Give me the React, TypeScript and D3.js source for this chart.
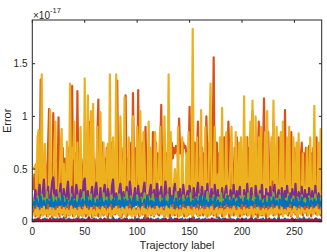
import React from "react";
import * as d3 from "d3";

// x tick values / labels
const xTicks = [0, 50, 100, 150, 200, 250];
const xTickLabels = ["0", "50", "100", "150", "200", "250"];
// y tick values (in units of 1e-17) / labels
const yTicks = [0, 0.5, 1, 1.5];
const yTickLabels = ["0", "0.5", "1", "1.5"];

const palette = ["#0072BD", "#D95319", "#EDB120", "#7E2F8E", "#77AC30", "#4DBEEE", "#A2142F"];

// series values in hundredths of 1e-17, one value per trajectory label 1..276
const blueA = [
  1,2,0,1,3,1,2,1,0,2,1,3,1,2,1,0,2,1,1,3,
  2,1,1,3,0,2,1,2,1,4,1,0,2,1,3,1,2,0,1,2,
  1,3,2,0,1,2,1,3,1,2,0,1,2,4,1,1,2,0,3,1,
  2,0,1,2,3,1,0,2,1,2,1,3,0,1,2,1,4,1,0,2,
  1,2,3,1,0,2,1,1,2,3,1,0,2,1,2,0,1,3,2,1,
  3,1,0,2,1,2,4,1,0,1,2,1,3,0,2,1,1,2,0,3,
  1,0,2,1,3,1,2,0,1,2,1,4,1,2,0,3,1,1,2,0,
  2,1,3,0,1,2,1,2,0,3,1,1,2,4,1,0,2,1,3,1,
  0,2,1,1,3,0,2,1,2,1,0,3,1,2,1,2,0,4,1,2,
  1,3,0,2,1,2,1,0,3,1,2,1,1,0,2,3,1,2,0,1,
  2,1,2,3,0,1,2,1,4,0,1,2,3,1,0,2,1,2,1,3,
  1,0,3,1,2,1,0,2,1,2,3,1,0,2,4,1,1,2,0,1,
  3,1,2,0,1,2,1,3,1,0,2,1,2,1,3,0,2,1,4,1,
  2,1,0,3,1,2,1,0,2,1,3,1,2,0,1,2
];

const orangeBig = [
  30,45,20,55,25,60,30,135,18,50,
  25,60,45,20,70,107,25,55,18,103,
  45,22,60,28,99,18,55,30,70,22,
  60,25,55,70,20,50,35,129,22,55,
  65,20,124,40,18,70,45,22,60,30,
  70,25,60,95,20,55,70,25,60,35,
  28,80,116,22,60,40,75,20,60,25,
  70,35,18,65,40,75,22,60,30,70,
  134,25,60,75,20,55,70,30,120,22,
  60,25,75,40,20,122,60,25,70,35,
  125,22,60,35,75,20,65,90,30,60,
  25,70,40,18,85,60,28,75,22,65,
  40,70,111,22,60,80,30,65,20,70,
  55,45,75,60,70,65,72,70,60,98,
  65,68,60,75,70,72,65,60,55,109,
  35,65,22,60,75,30,65,95,25,60,
  30,70,22,65,40,100,60,25,75,40,
  28,70,156,22,60,75,30,65,35,70,
  25,65,80,22,70,35,95,60,25,75,
  40,20,70,35,80,25,65,22,70,40,
  30,75,22,65,80,20,70,35,60,105,
  25,65,75,20,60,95,30,70,22,65,
  117,35,70,22,85,40,20,75,30,95,
  40,22,70,20,80,35,65,25,70,40,
  106,20,65,35,75,22,85,40,20,70,
  30,65,25,70,20,60,75,25,65,35,
  70,20,60,72,25,65,20,70,30,60,
  80,25,65,20,70,30
];

const yellowBig = [
  52,50,54,25,80,87,30,22,140,25,
  20,74,30,18,22,28,106,20,25,30,
  70,95,22,18,25,40,70,88,20,55,
  25,20,76,22,18,131,30,70,60,95,
  20,22,75,15,25,90,28,20,22,136,
  35,20,120,18,25,105,30,112,25,20,
  30,90,20,18,104,28,22,75,18,25,
  60,74,22,140,22,20,80,30,25,140,
  35,22,20,100,60,20,25,118,18,22,
  30,80,25,22,20,100,35,22,20,90,
  60,28,105,25,18,85,60,22,20,30,
  95,25,70,25,20,22,85,65,20,25,
  60,90,22,20,25,100,60,20,28,140,
  25,85,22,18,35,50,30,20,90,18,
  22,20,80,25,20,15,65,28,85,20,
  25,40,183,22,20,35,80,18,22,45,
  106,25,20,35,90,20,22,40,80,131,
  30,22,40,90,25,20,45,28,80,22,
  108,25,20,40,85,20,22,30,65,90,
  22,20,35,85,25,20,75,22,80,30,
  20,119,25,80,20,22,45,95,25,115,
  35,20,100,28,22,80,25,90,22,20,
  40,85,22,105,25,20,22,80,40,115,
  30,22,90,25,20,35,85,20,95,22,
  25,30,80,22,90,20,25,18,80,30,
  22,75,25,84,20,22,20,65,30,20,
  25,70,22,20,80,30,22,40,110,25,
  20,20,75,18,88,60
];

const purple = [
  12,22,30,18,14,25,35,20,12,28,40,24,15,22,33,18,13,27,38,42,
  25,16,30,21,12,26,36,19,14,31,24,13,28,38,22,15,20,33,17,12,
  26,35,28,16,21,30,14,24,38,41,22,15,29,18,12,25,33,20,16,30,
  37,24,14,20,32,18,13,28,35,22,16,31,26,12,19,34,40,23,15,27,
  20,13,30,36,24,17,28,14,21,33,26,15,38,29,18,13,24,32,20,16,
  34,22,14,27,19,31,37,21,15,25,13,29,35,18,23,30,14,20,36,24,
  16,28,33,19,13,26,38,27,15,21,32,17,24,14,30,36,20,13,28,22,
  31,18,14,35,25,16,22,29,13,34,27,19,15,32,24,12,28,37,21,16,
  26,33,17,13,29,22,36,18,14,27,31,20,15,35,24,13,30,19,25,16,
  32,21,14,28,34,18,24,13,30,26,17,35,22,14,29,19,27,33,15,21,
  14,30,24,17,36,20,13,27,32,19,23,15,34,26,18,13,29,22,35,17,
  24,15,31,19,27,13,33,21,16,28,35,18,14,26,30,20,13,32,23,17,
  29,16,34,22,14,27,19,31,24,15,36,20,13,28,25,18,33,14,22,30,
  18,26,13,32,21,15,29,24,17,34,19,14,27,22,16,25
];

const green = [
  14,20,12,17,24,15,11,19,26,13,18,22,15,28,12,17,21,14,19,25,
  16,12,23,18,14,27,13,20,16,24,11,18,22,15,19,13,26,17,14,21,
  18,13,25,16,20,12,22,17,28,14,19,15,23,12,18,26,14,20,16,22,
  13,24,17,19,12,21,15,27,14,18,23,16,12,20,25,15,18,13,22,17,
  20,14,26,16,19,12,23,18,15,28,13,21,17,24,14,19,12,22,16,25,
  15,18,13,23,20,14,27,16,19,12,24,17,21,15,26,13,18,22,14,20,
  17,25,12,19,22,15,18,13,26,16,20,14,23,17,12,21,28,15,19,16,
  22,14,18,25,13,20,16,24,12,19,27,15,21,17,14,23,18,13,26,16,
  19,13,24,16,21,14,28,17,12,22,18,15,25,13,20,16,23,14,19,27,
  14,21,17,12,26,18,15,23,13,20,16,25,14,19,22,12,18,24,15,21,
  16,24,13,19,15,27,17,21,12,18,25,14,22,16,20,13,26,15,19,17,
  21,15,18,24,12,20,16,23,14,27,17,13,22,18,15,25,12,19,21,16,
  18,22,14,26,16,12,21,17,24,13,19,15,23,18,12,20,25,14,17,22,
  15,20,13,24,18,16,22,12,19,26,14,17,21,15,23,18
];

const lightBlue = [
  10,13,8,12,15,9,11,14,7,12,10,16,9,13,11,8,14,10,12,15,
  9,12,14,8,11,15,10,13,7,12,16,9,11,14,10,8,13,12,15,9,
  11,14,9,12,10,16,8,13,11,15,9,12,14,10,7,13,11,16,9,12,
  13,10,15,8,12,14,11,9,16,12,10,13,8,15,11,14,9,12,10,13,
  8,14,11,13,16,9,12,10,15,11,13,8,12,14,10,16,11,9,13,12,
  15,9,12,11,14,10,13,16,8,12,15,11,10,14,9,13,12,16,10,11,
  12,15,10,13,9,14,11,12,16,8,13,10,15,12,11,14,9,13,16,10,
  14,11,13,9,15,12,10,16,11,13,8,14,12,10,15,11,13,9,14,12,
  10,13,16,11,12,9,14,10,13,15,11,12,8,16,13,10,14,12,9,15,
  13,9,12,15,10,14,11,13,9,16,12,10,14,11,15,8,13,12,16,10,
  11,16,10,12,14,9,13,15,11,10,14,12,9,15,13,11,16,10,12,14,
  12,10,15,11,13,16,9,12,14,10,13,11,16,9,12,15,10,14,11,13,
  15,11,13,10,16,12,9,14,11,13,10,15,12,8,14,11,13,16,10,12,
  9,14,12,16,10,13,11,15,9,12,14,10,13,11,16,12
];

const darkRed = [
  1,0,2,1,0,3,1,1,0,2,1,0,1,2,0,1,3,0,1,1,
  0,2,1,0,1,0,3,1,0,2,0,1,0,1,2,0,1,0,2,1,
  1,0,1,3,0,1,2,0,1,0,1,2,0,4,1,0,1,0,2,0,
  2,0,1,0,1,2,0,1,3,0,1,0,2,1,0,1,0,2,0,1,
  0,1,2,0,1,0,1,3,0,2,1,0,1,0,2,1,0,1,2,0,
  1,2,0,1,0,2,1,0,1,4,0,1,2,0,1,0,1,2,0,1,
  0,1,0,2,1,0,3,1,0,1,2,0,1,0,1,2,0,3,1,0,
  2,0,1,0,1,2,0,1,0,2,1,3,0,1,0,1,2,0,1,0,
  1,0,2,1,0,1,0,2,1,0,3,1,0,2,0,1,0,1,2,1,
  0,1,0,3,1,0,2,0,1,0,1,2,1,0,1,0,2,0,1,3,
  1,2,0,1,0,1,2,0,3,1,0,1,0,2,1,0,1,2,0,1,
  0,1,2,0,1,3,0,1,0,2,1,0,1,0,2,1,0,1,0,2,
  1,0,1,2,0,1,0,3,1,0,2,1,0,1,0,2,0,1,2,0,
  1,2,0,1,0,1,2,0,1,3,0,1,0,2,1,0
];

const blueB = [
  15,19,12,22,16,11,18,24,13,17,20,14,10,21,16,19,12,23,15,18,
  13,20,17,11,22,15,19,14,24,12,18,16,21,13,10,19,17,23,14,16,
  20,12,18,15,22,11,17,21,14,19,13,24,16,12,20,18,15,22,13,17,
  16,21,13,19,11,23,15,18,12,20,17,14,22,16,19,11,21,15,18,24,
  12,17,20,14,18,23,13,16,21,11,19,15,22,17,12,20,14,24,16,18,
  19,14,22,12,17,15,21,13,18,24,16,11,20,14,19,17,12,22,15,21,
  14,18,11,20,16,23,13,19,15,12,21,17,24,14,18,11,22,16,13,20,
  17,22,15,12,19,14,21,16,23,13,18,11,20,15,17,22,12,19,14,24,
  21,13,17,24,14,20,12,18,15,22,16,19,11,23,14,17,20,13,18,15,
  12,19,16,21,13,24,17,14,20,11,18,22,15,12,19,16,23,14,21,17,
  18,15,23,12,20,14,17,22,13,19,16,11,21,15,24,18,12,20,14,17,
  15,21,12,18,16,22,14,19,11,23,17,13,20,16,12,21,18,15,24,13,
  20,14,19,13,24,15,18,12,21,16,14,22,17,11,19,15,23,13,18,16,
  13,18,22,15,11,20,17,14,21,12,19,16,23,14,17,20
];

const orangeLow = [
  8,12,5,15,7,10,4,13,9,6,14,8,11,5,16,7,12,9,4,13,
  10,6,14,8,12,5,11,15,7,9,13,4,10,16,6,12,8,14,5,11,
  7,13,9,4,15,10,6,12,8,16,5,11,14,7,9,13,4,10,15,6,
  12,8,5,14,10,7,13,6,11,15,9,4,12,8,16,5,10,13,7,11,
  9,15,6,11,4,13,8,12,10,5,14,7,16,9,6,11,13,4,12,8,
  14,5,10,13,7,16,9,4,12,8,11,15,6,10,13,5,14,8,11,7,
  6,11,14,8,12,5,10,15,7,13,4,9,12,16,8,6,11,14,5,10,
  13,7,9,16,5,11,14,6,10,12,8,15,4,11,9,13,7,16,10,6,
  10,14,6,12,8,15,5,11,13,7,9,16,6,12,10,4,14,8,11,15,
  5,9,13,7,16,10,12,4,14,8,11,6,15,9,13,7,10,5,12,16,
  11,7,15,9,6,13,8,14,5,12,10,16,7,11,4,14,9,13,6,10,
  15,10,4,12,14,7,11,9,16,6,13,8,10,15,5,12,7,14,9,11,
  8,13,11,6,10,16,5,12,9,14,7,11,4,13,15,8,10,6,12,14,
  12,6,14,9,11,5,15,8,13,10,7,16,9,12,6,11
];

const yellowLow = [
  9,6,11,7,13,5,10,8,12,6,14,7,9,11,5,10,13,8,6,12,
  7,10,5,12,9,14,6,11,8,13,5,9,12,7,10,6,14,8,11,5,
  12,8,10,6,13,7,11,5,9,14,8,12,6,10,7,13,9,5,11,8,
  6,13,9,11,5,10,14,7,12,8,6,11,9,13,5,10,7,12,8,14,
  10,7,12,5,9,13,8,11,6,14,10,7,12,9,5,11,13,6,10,8,
  13,9,6,10,14,7,12,8,11,5,9,13,7,10,12,6,11,8,14,9,
  8,11,13,7,10,6,9,14,5,12,8,10,13,6,11,9,7,12,10,5,
  11,6,9,13,8,12,5,10,14,7,11,9,6,13,8,10,12,5,9,11,
  7,12,10,8,11,5,13,9,6,12,14,8,10,7,11,13,6,9,12,8,
  12,9,5,11,7,13,10,8,12,6,9,14,11,7,10,5,13,8,11,6,
  9,13,8,10,12,6,11,7,14,9,5,12,10,8,13,11,6,10,7,12,
  6,10,12,9,5,11,8,13,7,10,12,6,14,9,11,8,10,13,5,9,
  11,8,7,13,10,12,6,9,11,14,8,10,5,12,9,7,13,11,8,10,
  10,12,6,11,8,13,9,7,12,10,14,6,11,9,8,12
];

const seriesList = [blueA, orangeBig, yellowBig, purple, green, lightBlue, darkRed, blueB, orangeLow, yellowLow];

export default function App() {
  const W = 327, H = 252;
  const L = 32.3, R = 321.7, T = 20, B = 221.7;
  const x = d3.scaleLinear().domain([0, 276]).range([L, R]);
  const y = d3.scaleLinear().domain([0, 1.915]).range([B, T]);
  const line = d3.line<number>().x((_, i) => x(i + 1)).y((d) => y(d / 100));
  const axisColor = "#262626";
  const font = "'Liberation Sans', Arial, Helvetica, sans-serif";
  const tickLen = 2.8;

  return (
    <svg width={W} height={H} style={{ position: "absolute", left: 0, top: 0, background: "#fff" }}>
      <rect x={0} y={0} width={W} height={H} fill="#fff" />
      <defs>
        <clipPath id="plotclip">
          <rect x={L} y={T} width={R - L} height={B - T} />
        </clipPath>
      </defs>
      <g clipPath="url(#plotclip)">
        {seriesList.map((s, k) => (
          <path key={k} d={line(s) || ""} fill="none" stroke={palette[k % 7]} strokeWidth={2.2} strokeLinejoin="round" />
        ))}
      </g>
      <rect x={L} y={T} width={R - L} height={B - T} fill="none" stroke={axisColor} strokeWidth={1} />
      {xTicks.map((t, i) => (
        <g key={"xt" + i}>
          <line x1={x(t)} x2={x(t)} y1={B} y2={B - tickLen} stroke={axisColor} />
          <line x1={x(t)} x2={x(t)} y1={T} y2={T + tickLen} stroke={axisColor} />
          <text x={x(t)} y={235} textAnchor="middle" fontSize={10} fontFamily={font} fill={axisColor}>{xTickLabels[i]}</text>
        </g>
      ))}
      {yTicks.map((t, i) => (
        <g key={"yt" + i}>
          <line x1={L} x2={L + tickLen} y1={y(t)} y2={y(t)} stroke={axisColor} />
          <line x1={R} x2={R - tickLen} y1={y(t)} y2={y(t)} stroke={axisColor} />
          <text x={27.5} y={y(t) + 3.5} textAnchor="end" fontSize={10} fontFamily={font} fill={axisColor}>{yTickLabels[i]}</text>
        </g>
      ))}
      <text x={33} y={18.5} fontSize={10} fontFamily={font} fill={axisColor}>
        ×10<tspan dy={-5.5} fontSize={7.5}>-17</tspan>
      </text>
      <text x={(L + R) / 2} y={249} textAnchor="middle" fontSize={11} fontFamily={font} fill={axisColor}>Trajectory label</text>
      <text transform={`translate(11,${(T + B) / 2}) rotate(-90)`} textAnchor="middle" fontSize={11} fontFamily={font} fill={axisColor}>Error</text>
    </svg>
  );
}
